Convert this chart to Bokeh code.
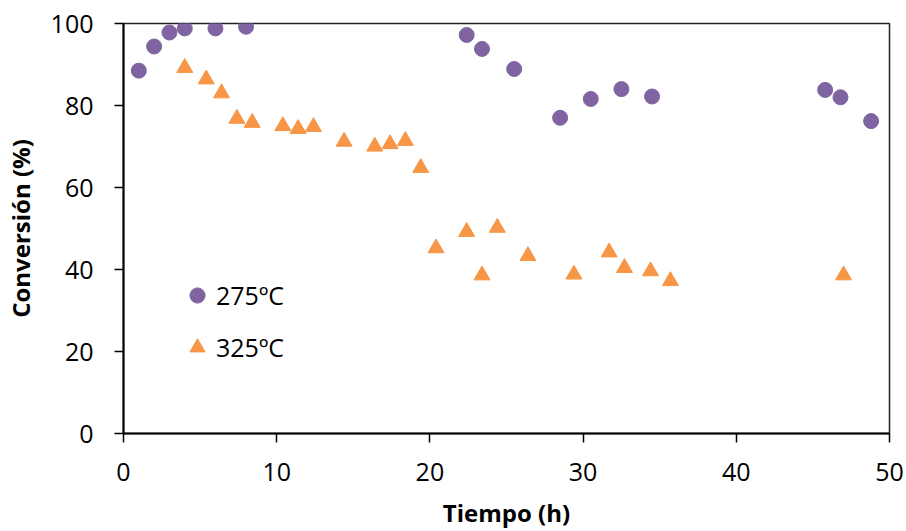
from bokeh.plotting import figure
from bokeh.models import Legend, LegendItem, Range1d, FixedTicker
from bokeh.embed import file_html
from bokeh.resources import INLINE

# 275ºC series
t_275 = [1.0, 2.0, 3.0, 4.0, 6.0, 8.0, 22.4, 23.4, 25.5, 28.5, 30.5, 32.5, 34.5, 45.8, 46.8, 48.8]
c_275 = [88.5, 94.4, 97.8, 98.8, 98.8, 99.2, 97.2, 93.8, 88.9, 77.0, 81.6, 84.0, 82.2, 83.8, 82.0, 76.2]

# 325ºC series
t_325 = [4.0, 5.4, 6.4, 7.4, 8.4, 10.4, 11.4, 12.4, 14.4, 16.4, 17.4, 18.4, 19.4, 20.4, 22.4, 23.4,
         24.4, 26.4, 29.4, 31.7, 32.7, 34.4, 35.7, 47.0]
c_325 = [89.2, 86.4, 83.0, 76.8, 75.8, 75.0, 74.3, 74.8, 71.2, 70.0, 70.6, 71.4, 64.8, 45.2, 49.2, 38.6,
         50.2, 43.3, 38.8, 44.2, 40.4, 39.6, 37.2, 38.6]

x_ticks = [0, 10, 20, 30, 40, 50]
y_ticks = [0, 20, 40, 60, 80, 100]

FONT = "Open Sans"

p = figure(width=906, height=531, output_backend="svg", toolbar_location=None,
           x_range=Range1d(0, 50), y_range=Range1d(0, 100),
           min_border_left=121, min_border_right=17, min_border_top=23, min_border_bottom=94)

r1 = p.scatter(t_275, c_275, marker="circle", size=15, fill_color="#8064A2", line_color="#8064A2")
r2 = p.scatter(t_325, c_325, marker="triangle", size=16, fill_color="#F79646", line_color="#F79646")

p.xgrid.visible = False
p.ygrid.visible = False
p.outline_line_color = "#222222"
p.outline_line_width = 1.5

for ax, ticks in ((p.xaxis[0], x_ticks), (p.yaxis[0], y_ticks)):
    ax.ticker = FixedTicker(ticks=ticks)
    ax.minor_tick_line_color = None
    ax.major_tick_in = 0
    ax.major_tick_out = 9
    ax.major_tick_line_color = "black"
    ax.major_tick_line_width = 1.5
    ax.axis_line_color = "black"
    ax.axis_line_width = 2
    ax.major_label_text_font = FONT
    ax.major_label_text_font_size = "25px"
    ax.major_label_text_color = "black"
    ax.axis_label_text_font = FONT
    ax.axis_label_text_font_size = "24px"
    ax.axis_label_text_font_style = "bold"
    ax.axis_label_text_color = "black"

p.xaxis.axis_label = "Tiempo (h)"
p.yaxis.axis_label = "Conversión (%)"
p.xaxis.major_label_standoff = 20
p.yaxis.major_label_standoff = 21
p.xaxis.axis_label_standoff = 12
p.yaxis.axis_label_standoff = 11

legend = Legend(items=[LegendItem(label="275ºC", renderers=[r1]),
                       LegendItem(label="325ºC", renderers=[r2])],
                location=(55, 67), orientation="vertical",
                glyph_width=38, glyph_height=38, spacing=14, label_standoff=0,
                padding=0, margin=0, border_line_color=None, background_fill_alpha=0,
                label_text_font=FONT, label_text_font_size="25px", label_text_color="black")
p.add_layout(legend, "center")

open("out.html", "w").write(file_html(p, INLINE))
